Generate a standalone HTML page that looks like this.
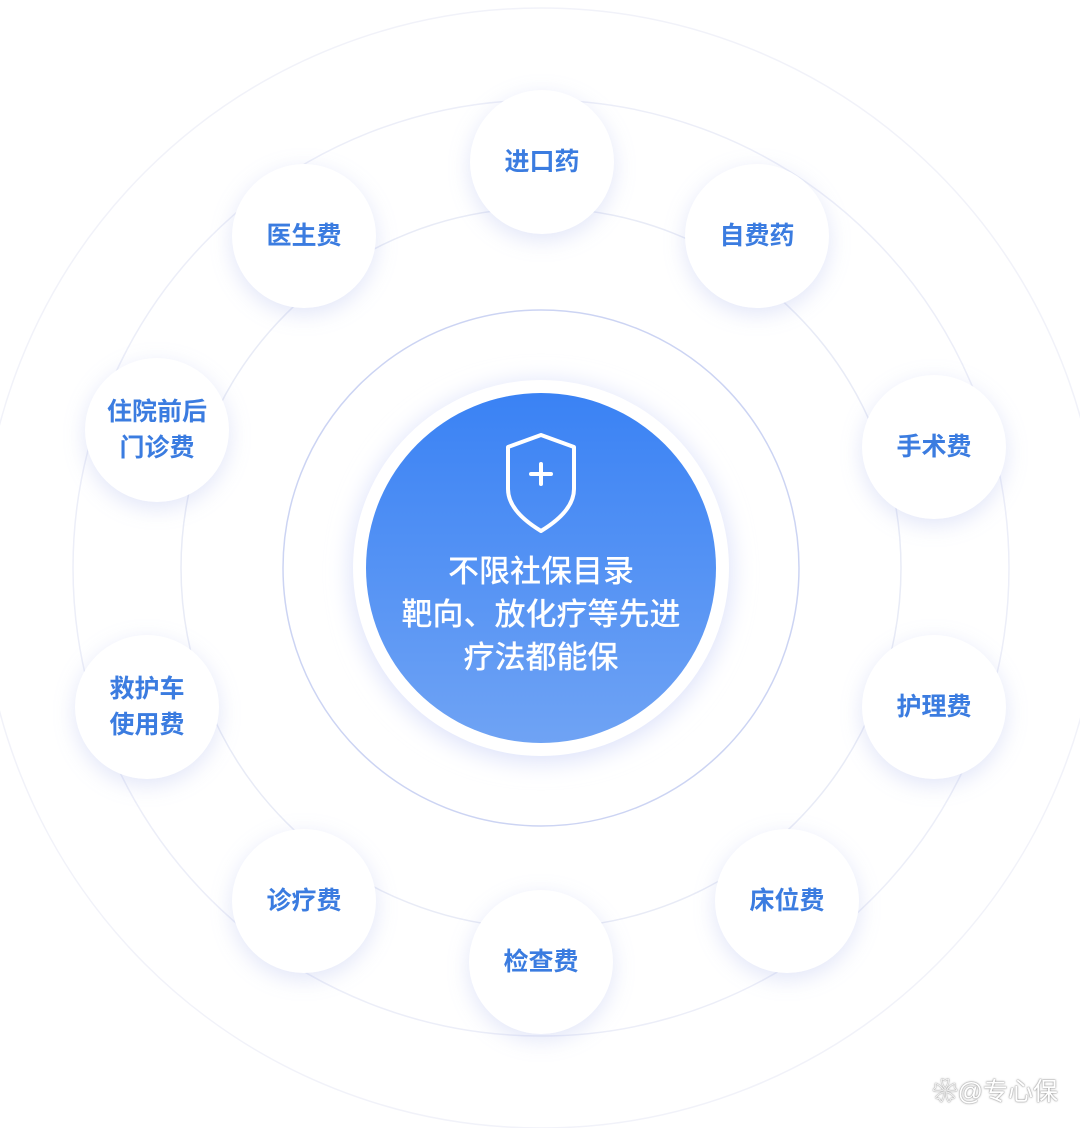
<!DOCTYPE html>
<html><head><meta charset="utf-8"><style>
html,body{margin:0;padding:0;background:#fff;}
body{width:1080px;height:1128px;overflow:hidden;position:relative;font-family:"Liberation Sans","Noto Sans CJK SC",sans-serif;}
svg{position:absolute;left:0;top:0;}
.n{position:absolute;width:144px;height:144px;border-radius:50%;background:#fff;box-shadow:0 6px 22px rgba(150,165,230,0.28);display:flex;align-items:center;justify-content:center;text-align:center;color:#3b7ce0;font-size:25px;font-weight:bold;line-height:36px;}
.c{position:absolute;left:366px;top:393px;width:350px;height:350px;border-radius:50%;background:linear-gradient(#3a82f4,#6fa3f4);color:#fff;text-align:center;}
.c .t{position:absolute;top:157px;width:100%;font-size:31px;line-height:43px;font-weight:500;}
.wm{position:absolute;right:22px;top:1072px;font-size:25px;color:#fff;text-shadow:0 0 2px #999,0 0 1px #666;}
</style></head><body>
<svg width="1080" height="1128">
<defs><filter id="sh" x="-30%" y="-30%" width="160%" height="160%"><feGaussianBlur stdDeviation="12"/></filter></defs>
<circle cx="541" cy="568" r="560" fill="none" stroke="#f1f2f9" stroke-width="1.5"/>
<circle cx="541" cy="568" r="468" fill="none" stroke="#eceef8" stroke-width="1.5"/>
<circle cx="541" cy="568" r="360" fill="none" stroke="#e8ebf6" stroke-width="1.5"/>
<circle cx="541" cy="568" r="258" fill="none" stroke="#ccd4f3" stroke-width="1.5"/>
<circle cx="541" cy="572" r="190" fill="#dde2fa" filter="url(#sh)"/>
<circle cx="541" cy="568" r="188" fill="#fff"/>
</svg>
<div class="c"><svg width="350" height="350" style="position:absolute;left:0;top:0">
<path d="M175 42 L208 54 L208 96 Q208 118 175 138 Q142 118 142 96 L142 54 Z" fill="none" stroke="#fff" stroke-width="4" stroke-linejoin="round"/>
<path d="M175 71 V91 M165 81 H185" stroke="#fff" stroke-width="4" stroke-linecap="round"/>
</svg><div class="t">不限社保目录<br>靶向、放化疗等先进<br>疗法都能保</div></div>
<div class="n" style="left:470px;top:90px">进口药</div>
<div class="n" style="left:685px;top:164px">自费药</div>
<div class="n" style="left:232px;top:164px">医生费</div>
<div class="n" style="left:862px;top:375px">手术费</div>
<div class="n" style="left:85px;top:358px">住院前后<br>门诊费</div>
<div class="n" style="left:862px;top:635px">护理费</div>
<div class="n" style="left:75px;top:635px">救护车<br>使用费</div>
<div class="n" style="left:715px;top:829px">床位费</div>
<div class="n" style="left:232px;top:829px">诊疗费</div>
<div class="n" style="left:469px;top:890px">检查费</div>
<div class="wm">❀@专心保</div>
</body></html>
